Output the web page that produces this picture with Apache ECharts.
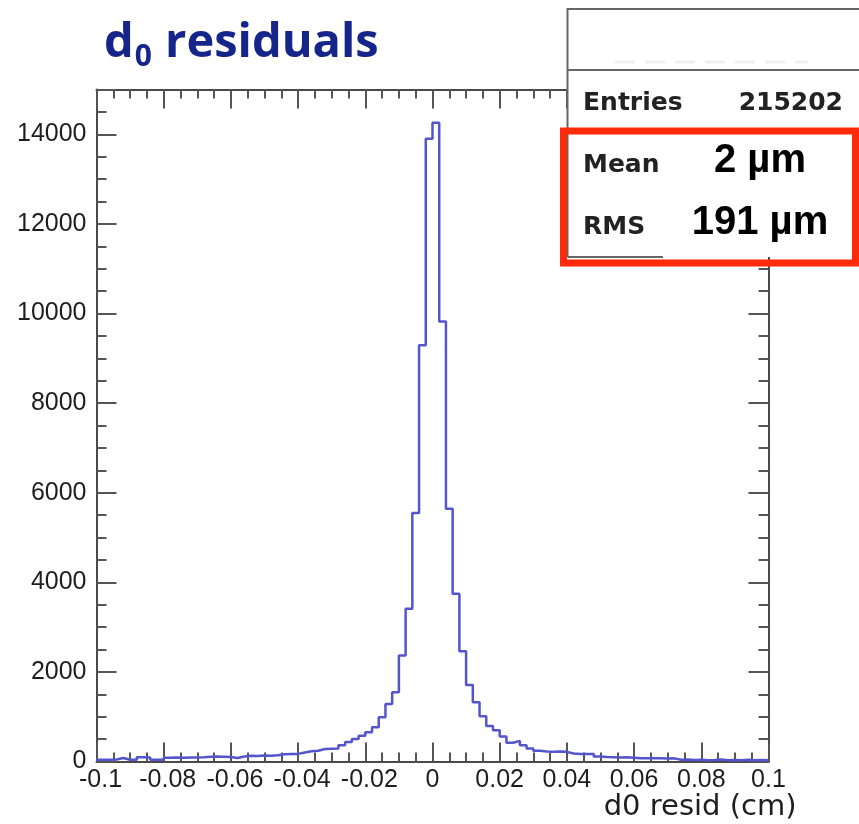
<!DOCTYPE html>
<html><head><meta charset="utf-8">
<script src="https://cdn.jsdelivr.net/npm/echarts@6/dist/echarts.min.js"></script>
<style>html,body{margin:0;padding:0;background:#fff}#c{width:859px;height:824px}</style>
</head><body><div id="c"></div>
<script>
// ---- data ----
const xMin = -0.1;
const xMax = 0.1;
const binWidth = 0.002;
const binCounts = [
  40, 40, 45, 78, 40, 40, 94, 90, 40, 40,
  85, 90, 85, 90, 90, 95, 107, 110, 105, 100,
  80, 110, 130, 125, 135, 130, 140, 160, 165, 170,
  200, 228, 240, 280, 285, 290, 360, 435, 503, 577,
  653, 764, 988, 1285, 1547, 2365, 3408, 5547, 9293, 13900,
  14260, 9823, 5643, 3744, 2460, 1710, 1320, 1010, 790, 700,
  560, 420, 460, 360, 290, 240, 225, 220, 225, 215,
  180, 165, 170, 165, 110, 100, 95, 90, 95, 85,
  70, 75, 70, 72, 65, 70, 40, 45, 35, 40,
  30, 35, 45, 30, 35, 30, 40, 30, 35, 30
];
const xTickStep = 0.02;
const yMin = 0;
const yMax = 15000;
const yTickStep = 2000;
const statLabels = ['Entries', 'Mean', 'RMS'];
const statValues = ['215202', '2 µm', '191 µm'];
const xTitle = 'd0 resid (cm)';

// ---- build ----
const histData = binCounts.map((c, i) => [+(xMin + i * binWidth).toFixed(4), c]);
histData.push([xMax, binCounts[binCounts.length - 1]]);

const frameColor = '#4a4a4a';
const tickColor = '#555';
const labelFont = 'Liberation Sans';
const labelSize = 25;

function xAxisCfg(pos, showLabel) {
  return {
    type: 'value', min: xMin, max: xMax, interval: xTickStep, position: pos,
    axisLine: { show: true, onZero: false, lineStyle: { color: frameColor, width: 2 } },
    axisTick: { show: true, inside: true, length: 19, lineStyle: { color: tickColor, width: 2 } },
    minorTick: { show: true, splitNumber: 4, length: 9, lineStyle: { color: tickColor, width: 2 } },
    splitLine: { show: false }, minorSplitLine: { show: false },
    axisLabel: showLabel ? {
      show: true, margin: 6, fontFamily: labelFont, fontSize: labelSize, color: '#1e1e1e',
      formatter: v => { const s = String(+(+v).toFixed(2)); return v < -1e-9 ? '{n|' + s + '}' : s; },
      rich: { n: { fontFamily: labelFont, fontSize: labelSize, color: '#1e1e1e', padding: [0, 0, 0, 8] } }
    } : { show: false }
  };
}
function yAxisCfg(pos, showLabel) {
  return {
    type: 'value', min: yMin, max: yMax, interval: yTickStep, position: pos,
    axisLine: { show: true, onZero: false, lineStyle: { color: frameColor, width: 2 } },
    axisTick: { show: true, inside: true, length: 20, lineStyle: { color: tickColor, width: 2 } },
    minorTick: { show: true, splitNumber: 4, length: 10, lineStyle: { color: tickColor, width: 2 } },
    splitLine: { show: false }, minorSplitLine: { show: false },
    axisLabel: showLabel ? {
      show: true, margin: 10, fontFamily: labelFont, fontSize: labelSize, color: '#1e1e1e',
      showMaxLabel: false, formatter: v => String(v)
    } : { show: false }
  };
}

const xa0 = xAxisCfg('bottom', true);
xa0.name = xTitle;
xa0.nameLocation = 'end';
xa0.nameGap = 28;
xa0.nameTextStyle = { fontFamily: 'DejaVu Sans', fontSize: 29, color: '#1e1e1e', align: 'right', verticalAlign: 'top', padding: [31, 0, 0, 0] };

const titleColor = '#16258a';
const chart = echarts.init(document.getElementById('c'), null, { renderer: 'canvas' });
chart.setOption({
  animation: false,
  backgroundColor: '#fff',
  title: {
    left: 104, top: 14, padding: 0,
    text: '{d|d}{s|0}{d| residuals}',
    textStyle: {
      rich: {
        d: { fontFamily: 'Open Sans', fontWeight: 'bold', fontSize: 47, color: titleColor, lineHeight: 60 },
        s: { fontFamily: 'Open Sans', fontWeight: 'bold', fontSize: 30, color: titleColor, lineHeight: 32, padding: [26, 1, 0, 1] }
      }
    }
  },
  grid: { left: 96.5, right: 90.5, top: 89.5, bottom: 62.5, containLabel: false, outerBoundsMode: 'none' },
  xAxis: [xa0, xAxisCfg('top', false)],
  yAxis: [yAxisCfg('left', true), yAxisCfg('right', false)],
  series: [{
    type: 'line', xAxisIndex: 0, yAxisIndex: 0, data: histData, step: 'end',
    symbol: 'none', lineStyle: { color: '#5454cc', width: 2.5 }, z: 5
  }],
  graphic: [
    { type: 'rect', z: 100, shape: { x: 567.5, y: 9, width: 300, height: 248 }, style: { fill: '#fff', stroke: null } },
    { type: 'line', z: 101, shape: { x1: 567.5, y1: 9, x2: 860, y2: 9 }, style: { stroke: '#666', lineWidth: 2 } },
    { type: 'line', z: 101, shape: { x1: 567.5, y1: 8, x2: 567.5, y2: 257 }, style: { stroke: '#666', lineWidth: 2 } },
    { type: 'line', z: 101, shape: { x1: 567.5, y1: 70, x2: 860, y2: 70 }, style: { stroke: '#666', lineWidth: 2 } },
    { type: 'line', z: 101, shape: { x1: 567.5, y1: 257, x2: 663, y2: 257 }, style: { stroke: '#666', lineWidth: 2 } },
    { type: 'line', z: 101, shape: { x1: 615, y1: 62, x2: 808, y2: 62 }, style: { stroke: '#efefef', lineWidth: 3, lineDash: [20, 10] } },
    { type: 'text', z: 102, style: { text: statLabels[0], x: 583, y: 103, fill: '#222', font: 'bold 25px "DejaVu Sans"', align: 'left', verticalAlign: 'middle' } },
    { type: 'text', z: 102, style: { text: statValues[0], x: 843, y: 103, fill: '#222', font: 'bold 25px "DejaVu Sans"', align: 'right', verticalAlign: 'middle' } },
    { type: 'text', z: 102, style: { text: statLabels[1], x: 583, y: 165, fill: '#222', font: 'bold 25px "DejaVu Sans"', align: 'left', verticalAlign: 'middle' } },
    { type: 'text', z: 102, style: { text: statLabels[2], x: 583, y: 227, fill: '#222', font: 'bold 25px "DejaVu Sans"', align: 'left', verticalAlign: 'middle' } },
    { type: 'text', z: 102, style: { text: statValues[1], x: 760, y: 161, fill: '#000', font: 'bold 40px "Liberation Sans"', align: 'center', verticalAlign: 'middle' } },
    { type: 'text', z: 102, style: { text: statValues[2], x: 760, y: 223, fill: '#000', font: 'bold 40px "Liberation Sans"', align: 'center', verticalAlign: 'middle' } },
    { type: 'rect', z: 103, shape: { x: 563.5, y: 131, width: 292, height: 132 }, style: { fill: null, stroke: '#ff2a0a', lineWidth: 7 } }
  ]
});
</script>
</body></html>
